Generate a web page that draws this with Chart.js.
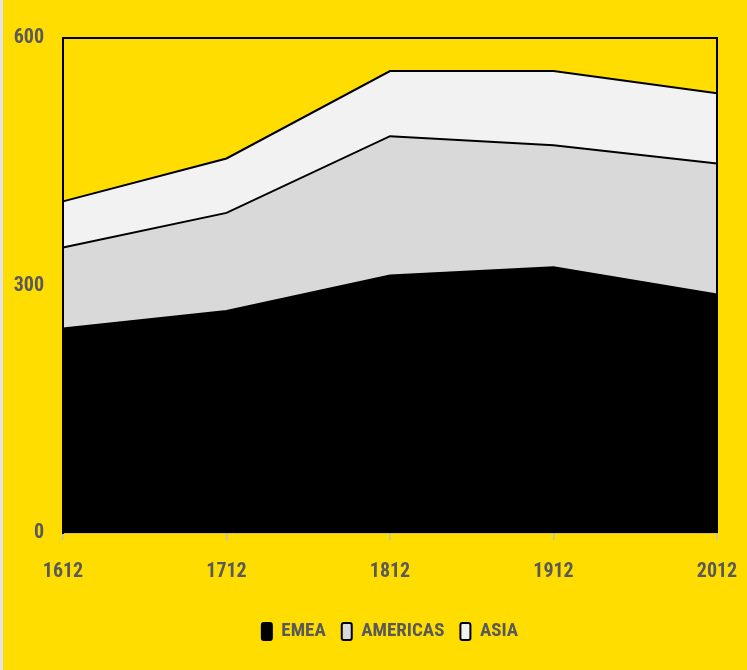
<!DOCTYPE html>
<html>
<head>
<meta charset="utf-8">
<script src="https://cdn.jsdelivr.net/npm/chart.js@4/dist/chart.umd.min.js"></script>
<style>
  html, body { margin: 0; padding: 0; background: #FFDD00; }
  #wrap { position: relative; width: 747px; height: 670px; }
  #edge { position: absolute; left: 0; top: 0; width: 3px; height: 670px; background: #E4E4E4; }
</style>
</head>
<body>
<div id="wrap"><canvas id="c" width="747" height="670"></canvas><div id="edge"></div></div>
<script>
// Population by region, stacked
const years = ['1612', '1712', '1812', '1912', '2012'];
const emea = [248, 269, 312, 322, 289];
const americas = [98, 119, 169, 148, 159];
const asia = [56, 66, 79, 90, 85];
const yTicks = [0, 300, 600];

const FONT = "'Liberation Sans Narrow', 'Arial Narrow', 'Roboto Condensed', sans-serif";
const TEXT = '#595959';

// Black frame on the top, left and right of the plot area
const frame = {
  id: 'frame',
  afterDatasetsDraw(chart) {
    const { ctx, chartArea: a } = chart;
    ctx.save();
    ctx.strokeStyle = '#000';
    ctx.lineWidth = 2;
    ctx.beginPath();
    ctx.moveTo(a.left, a.bottom);
    ctx.lineTo(a.left, a.top);
    ctx.lineTo(a.right, a.top);
    ctx.lineTo(a.right, a.bottom);
    ctx.stroke();
    ctx.restore();
  }
};

new Chart(document.getElementById('c'), {
  type: 'line',
  data: {
    labels: years,
    datasets: [
      { label: 'EMEA', data: emea, backgroundColor: '#000000', borderColor: '#000000', fill: 'origin' },
      { label: 'AMERICAS', data: americas, backgroundColor: '#D9D9D9', borderColor: '#000000', fill: '-1' },
      { label: 'ASIA', data: asia, backgroundColor: '#F2F2F2', borderColor: '#000000', fill: '-1' }
    ]
  },
  options: {
    responsive: false,
    animation: false,
    devicePixelRatio: 1,
    layout: { padding: { left: 0, right: 30, top: 38, bottom: 19 } },
    elements: {
      line: { tension: 0, borderWidth: 2 },
      point: { radius: 0, hoverRadius: 0 }
    },
    scales: {
      x: {
        offset: false,
        grid: { drawOnChartArea: false, drawTicks: true, tickLength: 7, color: '#BFBFBF', lineWidth: 1.5 },
        border: { color: '#A6A6A6', width: 1.5 },
        ticks: { color: TEXT, font: { family: FONT, size: 20, weight: 'bold' }, padding: 20, maxRotation: 0 },
        afterFit(s) { s.height = 73; s.paddingLeft = 0; s.paddingRight = 0; }
      },
      y: {
        stacked: true,
        min: 0,
        max: 600,
        afterBuildTicks(s) { s.ticks = yTicks.map(v => ({ value: v })); },
        grid: { display: false, drawTicks: false },
        border: { color: '#000000', width: 2 },
        ticks: { color: TEXT, font: { family: FONT, size: 20, weight: 'bold' }, padding: 19 },
        afterFit(s) { s.width = 63; }
      }
    },
    plugins: {
      legend: {
        position: 'bottom',
        fullSize: false,
        labels: {
          color: TEXT,
          font: { family: FONT, size: 19, weight: 'bold' },
          boxWidth: 10,
          boxHeight: 17,
          padding: 16,
          useBorderRadius: true,
          borderRadius: 2
        }
      },
      tooltip: { enabled: false }
    }
  },
  plugins: [frame]
});
</script>
</body>
</html>
